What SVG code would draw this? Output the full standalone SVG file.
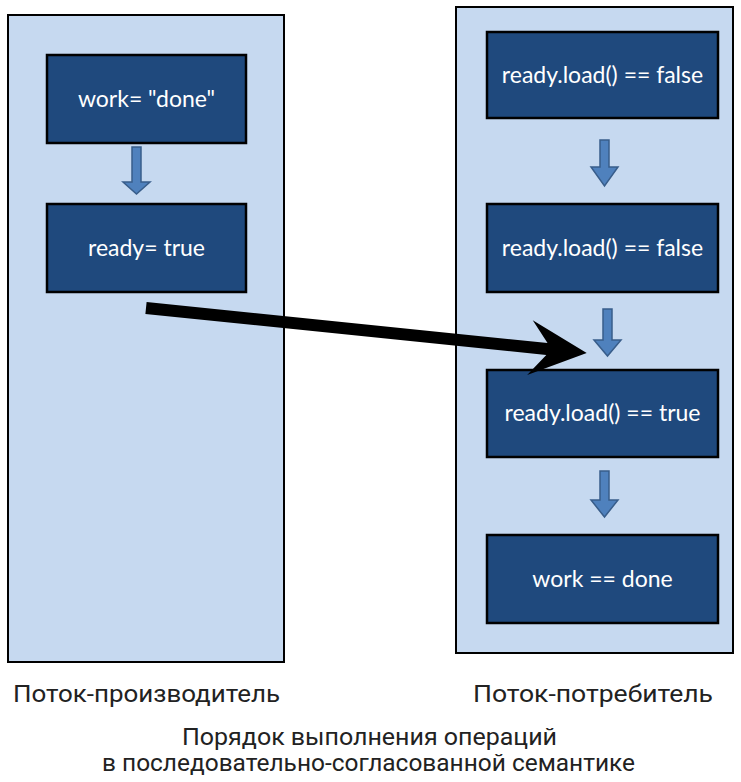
<svg xmlns="http://www.w3.org/2000/svg" width="741" height="782" viewBox="0 0 741 782">
<style>
.panel{fill:#c6d9f0;stroke:#000;stroke-width:2}
.box{fill:#1f497d;stroke:#000;stroke-width:2.5}
.bt{font-family:Lato,"Open Sans",sans-serif;font-size:23px;fill:#fff;text-anchor:middle}
.step{fill:#4f81bd;stroke:#385d8a;stroke-width:1.5}
.lbl{font-family:Roboto,"Liberation Sans",sans-serif;font-size:24px;fill:#222;text-anchor:middle}
</style>
<rect width="741" height="782" fill="#fff"/>
<g id="producer">
<rect class="panel" x="8" y="15" width="276" height="647"/>
</g>
<g id="consumer">
<rect class="panel" x="456" y="7" width="277" height="646"/>
</g>
<g id="p1"><rect class="box" x="47" y="55" width="199" height="88"/><text class="bt" x="146.5" y="107">work= "done"</text></g>
<g id="p2"><rect class="box" x="47" y="204" width="199" height="88"/><text class="bt" x="146.5" y="256">ready= true</text></g>
<g id="c1"><rect class="box" x="487" y="32" width="231" height="86"/><text class="bt" x="602.5" y="83">ready.load() == false</text></g>
<g id="c2"><rect class="box" x="487" y="204" width="231" height="88"/><text class="bt" x="602.5" y="256">ready.load() == false</text></g>
<g id="c3"><rect class="box" x="487" y="370" width="231" height="87"/><text class="bt" x="602.5" y="421">ready.load() == true</text></g>
<g id="c4"><rect class="box" x="487" y="535" width="231" height="88"/><text class="bt" x="602.5" y="587">work == done</text></g>
<g id="connectors">
<polygon class="step" points="132,147 141,147 141,182 150,182 136.5,194 123,182 132,182"/>
<polygon class="step" points="600,140 609,140 609,167 618,167 604.5,186 591,167 600,167"/>
<polygon class="step" points="603,309 612,309 612,340 621,340 607.5,356 594,340 603,340"/>
<polygon class="step" points="600,471 609,471 609,500 618,500 604.5,517 591,500 600,500"/>
<g transform="translate(146,308) rotate(5.83)">
<polygon fill="#000" points="0,-6 403,-6 386,-27 443,0 386,28 403,6 0,6"/>
</g>
</g>
<g id="labels">
<text class="lbl" x="146.5" y="702" textLength="267" lengthAdjust="spacingAndGlyphs">Поток-производитель</text>
<text class="lbl" x="593" y="702" textLength="240" lengthAdjust="spacingAndGlyphs">Поток-потребитель</text>
<text class="lbl" x="369.5" y="745" textLength="375" lengthAdjust="spacingAndGlyphs">Порядок выполнения операций</text>
<text class="lbl" x="368.5" y="771" textLength="533" lengthAdjust="spacingAndGlyphs">в последовательно-согласованной семантике</text>
</g>
</svg>
